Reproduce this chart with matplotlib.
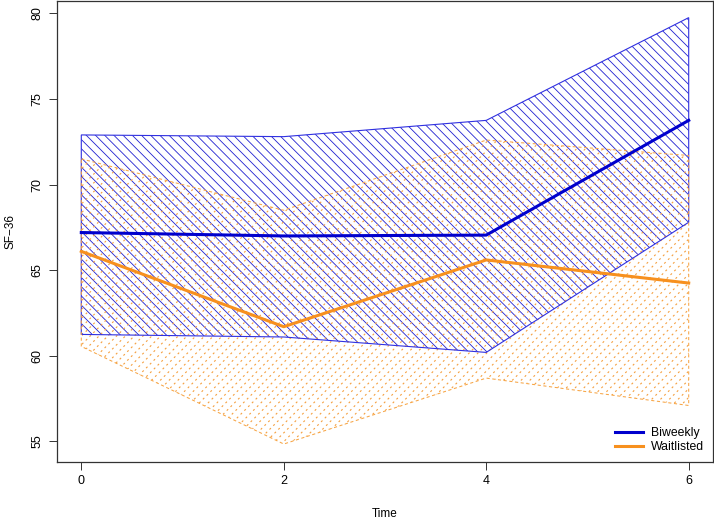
import matplotlib
matplotlib.use("Agg")
import matplotlib.pyplot as plt
import numpy as np
from matplotlib.patches import Polygon

time = [0, 2, 4, 6]
bi_mean = [67.2, 67.0, 67.05, 73.75]
bi_upper = [72.9, 72.8, 73.75, 79.75]
bi_lower = [61.25, 61.1, 60.2, 67.8]
wl_mean = [66.1, 61.7, 65.6, 64.25]
wl_upper = [71.5, 68.5, 72.6, 71.7]
wl_lower = [60.55, 54.85, 58.7, 57.1]

blue = "#0000CD"
orange = "#FF8C00"

plt.rcParams["font.family"] = ["Liberation Sans", "DejaVu Sans"]

fig = plt.figure(figsize=(7.14, 5.19), dpi=100)
W, H = 656.0, 461.5
ax = fig.add_axes([57 / 714, 57 / 519, W / 714, H / 519])


def band(x, lo, hi):
    return list(zip(x, hi)) + list(zip(x[::-1], lo[::-1]))


def hatch_lines(ax, clip, sign, spacing_px, **kw):
    # 45 degree lines in axes fraction, clipped to the band polygon
    step = spacing_px / W
    for c in np.arange(-1.0, 2.0 + step, step):
        xs = np.array([c - 1.0, c + 1.0])
        ys = sign * (xs - c) * W / H
        ln, = ax.plot(xs, ys, transform=ax.transAxes, **kw)
        ln.set_clip_path(clip)


# biweekly band
bi_poly = Polygon(band(time, bi_lower, bi_upper), closed=True, facecolor="none",
                  edgecolor="#3030E0", linewidth=0.8, zorder=2)
ax.add_patch(bi_poly)
hatch_lines(ax, bi_poly, -1, 9.2, color="#2020D0", lw=0.6, zorder=1)

# waitlisted band
wl_poly = Polygon(band(time, wl_lower, wl_upper), closed=True, facecolor="none",
                  edgecolor="#F7A545", linewidth=0.75, linestyle=(0, (3, 2.5)), zorder=2)
ax.add_patch(wl_poly)
hatch_lines(ax, wl_poly, 1, 8.8, color="#F5A040", lw=0.8,
            linestyle=(0, (1.8, 3)), zorder=1.5)

ax.plot(time, bi_mean, color=blue, lw=2.2, label="Biweekly", zorder=3)
ax.plot(time, wl_mean, color="#F7901E", lw=2.2, label="Waitlisted", zorder=3)

ax.set_xlim(-0.24, 6.24)
ax.set_ylim(53.8, 80.75)
ax.set_xticks([0, 2, 4, 6])
ax.set_yticks([55, 60, 65, 70, 75, 80])
ax.tick_params(direction="out", length=6, labelsize=9, width=0.7, color="#333333")
for lab in ax.get_yticklabels():
    lab.set_rotation(90)
    lab.set_va("center")
for s in ax.spines.values():
    s.set_linewidth(0.9)
    s.set_color("#333333")

ax.set_xlabel("Time", fontsize=8.5, labelpad=15)
ax.set_ylabel("SF\u221236", fontsize=8.5, labelpad=11)

ax.legend(loc="lower right", frameon=False, fontsize=8.8, handlelength=2.3,
          handletextpad=0.7, labelspacing=0.2, borderaxespad=0.3)

fig.savefig("out.png", dpi=100)
